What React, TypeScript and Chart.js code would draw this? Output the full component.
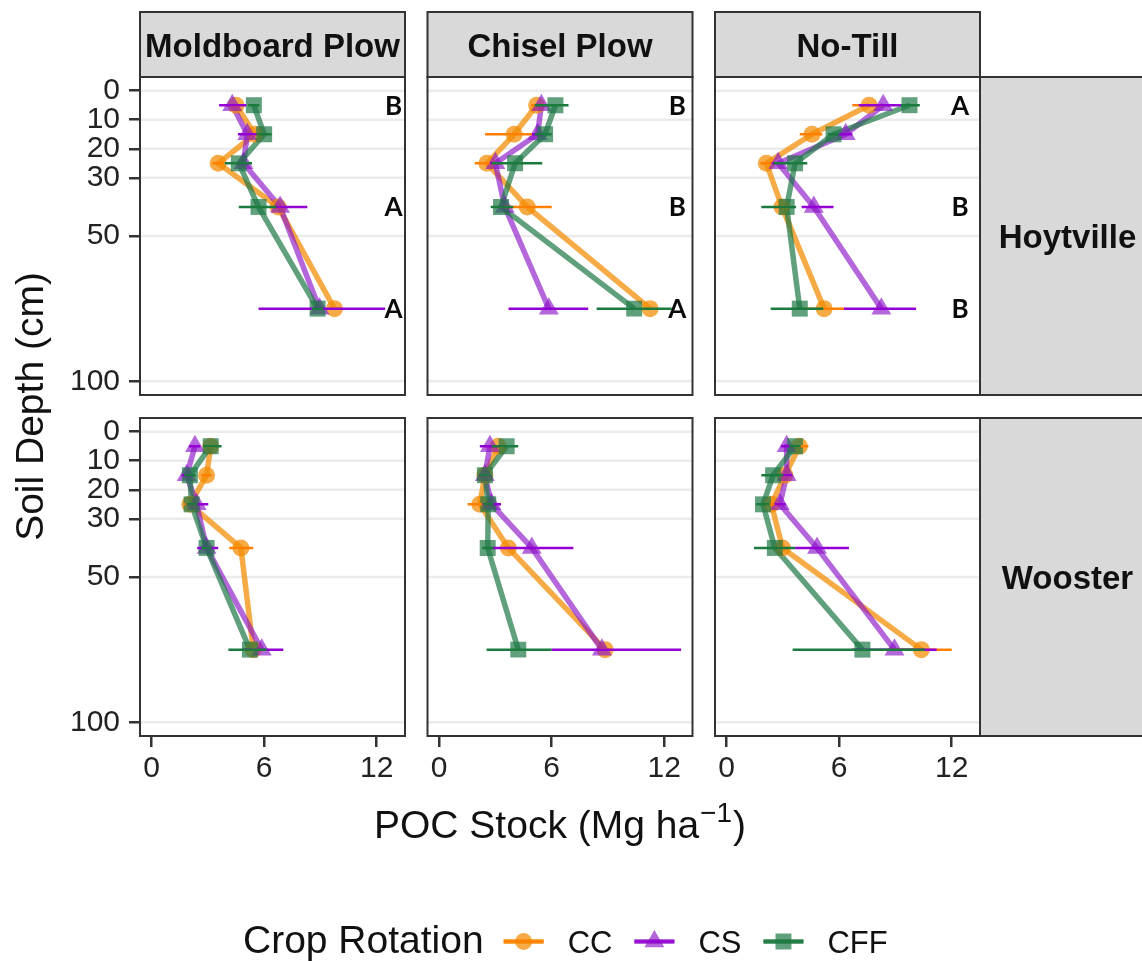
import React, { useEffect, useRef } from 'react';
import { Chart, registerables } from 'chart.js';

Chart.register(...registerables);

// ---------------- data ----------------
const depths = [5, 15, 25, 40, 75];
const tillages = ['Moldboard Plow', 'Chisel Plow', 'No-Till'];
const sites = ['Hoytville', 'Wooster'];
const rotations = ['CC', 'CS', 'CFF'];
const xTicks = [0, 6, 12];
const yTicks = [0, 10, 20, 30, 50, 100];

// Hoytville – Moldboard Plow
const hoyMoldCC = [4.5, 5.5, 3.55, 6.75, 9.75];
const hoyMoldCCLo = [4.2, 5.2, 3.25, 6.45, 9.45];
const hoyMoldCCHi = [4.8, 5.8, 3.85, 7.05, 10.05];
const hoyMoldCS = [4.3, 5.1, 4.9, 6.85, 8.95];
const hoyMoldCSLo = [3.6, 4.6, 4.6, 6.5, 5.7];
const hoyMoldCSHi = [5.05, 5.6, 5.2, 8.3, 12.45];
const hoyMoldCFF = [5.45, 6.0, 4.65, 5.7, 8.85];
const hoyMoldCFFLo = [5.15, 5.6, 3.9, 4.65, 8.55];
const hoyMoldCFFHi = [5.75, 6.4, 5.35, 6.65, 9.15];

// Hoytville – Chisel Plow
const hoyChiselCC = [5.2, 4.0, 2.55, 4.7, 11.25];
const hoyChiselCCLo = [4.9, 2.45, 1.9, 3.45, 10.95];
const hoyChiselCCHi = [5.5, 4.95, 3.3, 6.0, 11.55];
const hoyChiselCS = [5.45, 5.25, 3.0, 3.5, 5.85];
const hoyChiselCSLo = [5.15, 4.95, 2.7, 3.2, 3.7];
const hoyChiselCSHi = [5.75, 5.55, 3.3, 3.8, 7.95];
const hoyChiselCFF = [6.2, 5.65, 4.05, 3.3, 10.4];
const hoyChiselCFFLo = [5.1, 5.1, 2.8, 2.75, 8.4];
const hoyChiselCFFHi = [6.9, 6.0, 5.5, 3.95, 12.4];

// Hoytville – No-Till
const hoyNoTillCC = [7.6, 4.55, 2.12, 2.95, 5.2];
const hoyNoTillCCLo = [6.7, 3.9, 1.8, 2.6, 4.2];
const hoyNoTillCCHi = [8.4, 5.1, 2.45, 3.3, 6.25];
const hoyNoTillCS = [8.35, 6.35, 2.75, 4.65, 8.25];
const hoyNoTillCSLo = [7.05, 5.9, 2.4, 4.0, 6.25];
const hoyNoTillCSHi = [9.3, 6.7, 3.1, 5.7, 10.1];
const hoyNoTillCFF = [9.75, 5.7, 3.65, 3.2, 3.9];
const hoyNoTillCFFLo = [9.3, 5.4, 2.5, 1.85, 2.35];
const hoyNoTillCFFHi = [10.3, 6.0, 4.3, 3.7, 5.15];

// Wooster – Moldboard Plow
const wooMoldCC = [3.15, 2.93, 2.04, 4.76, 5.42];
const wooMoldCCLo = [2.85, 2.65, 1.75, 4.14, 5.12];
const wooMoldCCHi = [3.45, 3.2, 2.35, 5.42, 5.72];
const wooMoldCS = [2.31, 1.87, 2.4, 2.93, 5.87];
const wooMoldCSLo = [2.0, 1.6, 1.87, 2.43, 4.9];
const wooMoldCSHi = [2.6, 2.15, 3.02, 3.55, 7.02];
const wooMoldCFF = [3.15, 2.04, 2.13, 2.93, 5.24];
const wooMoldCFFLo = [2.75, 1.75, 1.85, 2.65, 4.09];
const wooMoldCFFHi = [3.73, 2.35, 2.45, 3.2, 6.13];

// Wooster – Chisel Plow
const wooChiselCC = [3.15, 2.44, 2.17, 3.69, 8.85];
const wooChiselCCLo = [2.85, 2.15, 1.52, 3.4, 8.55];
const wooChiselCCHi = [3.45, 2.75, 2.8, 4.0, 9.15];
const wooChiselCS = [2.71, 2.44, 2.8, 4.94, 8.68];
const wooChiselCSLo = [2.17, 2.15, 2.3, 2.8, 6.0];
const wooChiselCSHi = [3.15, 2.75, 3.3, 7.16, 12.9];
const wooChiselCFF = [3.6, 2.44, 2.62, 2.59, 4.22];
const wooChiselCFFLo = [2.8, 2.15, 2.35, 2.3, 2.53];
const wooChiselCFFHi = [4.22, 2.75, 2.9, 2.9, 6.0];

// Wooster – No-Till
const wooNoTillCC = [3.88, 3.11, 2.39, 2.98, 10.38];
const wooNoTillCCLo = [3.65, 2.8, 2.1, 2.7, 8.8];
const wooNoTillCCHi = [4.36, 3.4, 2.7, 3.3, 12.0];
const wooNoTillCS = [3.2, 3.2, 2.84, 4.82, 8.95];
const wooNoTillCSLo = [2.9, 2.9, 2.55, 3.65, 6.7];
const wooNoTillCSHi = [3.5, 3.5, 3.15, 6.52, 11.2];
const wooNoTillCFF = [3.65, 2.48, 1.94, 2.57, 7.24];
const wooNoTillCFFLo = [3.35, 1.85, 1.58, 1.46, 3.52];
const wooNoTillCFFHi = [3.95, 3.02, 2.3, 3.65, 10.56];

// significance letters (aligned with depths)
const hoyMoldLetters = ['B', '', '', 'A', 'A'];
const hoyChiselLetters = ['B', '', '', 'B', 'A'];
const hoyNoTillLetters = ['A', '', '', 'B', 'B'];
const wooLetters = ['', '', '', '', ''];
const letterX = [12.9, 12.7, 12.45];

// ---------------- table built from arrays ----------------
const panels = [
  [
    { letters: hoyMoldLetters, series: [[hoyMoldCC, hoyMoldCCLo, hoyMoldCCHi], [hoyMoldCS, hoyMoldCSLo, hoyMoldCSHi], [hoyMoldCFF, hoyMoldCFFLo, hoyMoldCFFHi]] },
    { letters: hoyChiselLetters, series: [[hoyChiselCC, hoyChiselCCLo, hoyChiselCCHi], [hoyChiselCS, hoyChiselCSLo, hoyChiselCSHi], [hoyChiselCFF, hoyChiselCFFLo, hoyChiselCFFHi]] },
    { letters: hoyNoTillLetters, series: [[hoyNoTillCC, hoyNoTillCCLo, hoyNoTillCCHi], [hoyNoTillCS, hoyNoTillCSLo, hoyNoTillCSHi], [hoyNoTillCFF, hoyNoTillCFFLo, hoyNoTillCFFHi]] },
  ],
  [
    { letters: wooLetters, series: [[wooMoldCC, wooMoldCCLo, wooMoldCCHi], [wooMoldCS, wooMoldCSLo, wooMoldCSHi], [wooMoldCFF, wooMoldCFFLo, wooMoldCFFHi]] },
    { letters: wooLetters, series: [[wooChiselCC, wooChiselCCLo, wooChiselCCHi], [wooChiselCS, wooChiselCSLo, wooChiselCSHi], [wooChiselCFF, wooChiselCFFLo, wooChiselCFFHi]] },
    { letters: wooLetters, series: [[wooNoTillCC, wooNoTillCCLo, wooNoTillCCHi], [wooNoTillCS, wooNoTillCSLo, wooNoTillCSHi], [wooNoTillCFF, wooNoTillCFFLo, wooNoTillCFFHi]] },
  ],
];

// ---------------- styles ----------------
const FONT = '"Liberation Sans", Arial, Helvetica, sans-serif';
const TEXT = '#111111';
const TICK = '#222222';
const darkColors = ['#FF7F00', '#9400D3', '#1B7A3E'];
const fillColors = ['rgba(243,139,0,0.72)', 'rgba(140,20,200,0.65)', 'rgba(30,120,70,0.7)'];
const pointStyles = ['circle', 'triangle', 'rect'];
const pointRadii = [8.5, 11.5, 11.3];

const X_MIN = -0.62, X_MAX = 13.51;
const Y_MIN = -4.71, Y_MAX = 104.72;

function buildDatasets() {
  const ds: any[] = [];
  panels.forEach((row, r) => {
    row.forEach((panel, c) => {
      panel.series.forEach(([vals, lo, hi], s) => {
        const common = { xAxisID: 'x' + c, yAxisID: 'y' + r };
        ds.push({
          ...common,
          label: `${sites[r]} ${tillages[c]} ${rotations[s]} path`,
          data: depths.map((d, i) => ({ x: vals[i], y: d })),
          borderColor: fillColors[s],
          borderWidth: 5.5,
          borderJoinStyle: 'round',
          borderCapStyle: 'butt',
          pointRadius: 0,
          fill: false,
          order: 30 - s,
        });
        ds.push({
          ...common,
          label: `${sites[r]} ${tillages[c]} ${rotations[s]} points`,
          data: depths.map((d, i) => ({ x: vals[i], y: d })),
          showLine: false,
          pointStyle: pointStyles[s],
          pointRadius: pointRadii[s],
          pointBackgroundColor: fillColors[s],
          pointBorderWidth: 0,
          pointBorderColor: 'rgba(0,0,0,0)',
          order: 20 - s,
        });
        const eb: any[] = [];
        depths.forEach((d, i) => {
          eb.push({ x: lo[i], y: d }, { x: hi[i], y: d }, { x: null, y: null });
        });
        ds.push({
          ...common,
          label: `${sites[r]} ${tillages[c]} ${rotations[s]} error`,
          data: eb,
          borderColor: darkColors[s],
          borderWidth: 2.5,
          borderCapStyle: 'butt',
          pointRadius: 0,
          spanGaps: false,
          fill: false,
          order: 10 - s,
        });
      });
    });
  });
  return ds;
}

function drawMarker(ctx: CanvasRenderingContext2D, style: string, x: number, y: number, r: number) {
  ctx.beginPath();
  if (style === 'circle') {
    ctx.arc(x, y, r, 0, Math.PI * 2);
  } else if (style === 'triangle') {
    let rad = 0;
    ctx.moveTo(x + Math.sin(rad) * r, y - Math.cos(rad) * r);
    rad += (2 * Math.PI) / 3;
    ctx.lineTo(x + Math.sin(rad) * r, y - Math.cos(rad) * r);
    rad += (2 * Math.PI) / 3;
    ctx.lineTo(x + Math.sin(rad) * r, y - Math.cos(rad) * r);
    ctx.closePath();
  } else {
    const h = r * Math.SQRT1_2;
    ctx.rect(x - h, y - h, 2 * h, 2 * h);
  }
  ctx.fill();
}

const facetPlugin = {
  id: 'facetPlugin',
  beforeDatasetsDraw(chart: any) {
    const ctx: CanvasRenderingContext2D = chart.ctx;
    ctx.save();
    ctx.strokeStyle = '#EBEBEB';
    ctx.lineWidth = 2.5;
    for (let r = 0; r < sites.length; r++) {
      for (let c = 0; c < tillages.length; c++) {
        const xs = chart.scales['x' + c];
        const ys = chart.scales['y' + r];
        yTicks.forEach((v) => {
          const py = ys.getPixelForValue(v);
          ctx.beginPath();
          ctx.moveTo(xs.left, py);
          ctx.lineTo(xs.right, py);
          ctx.stroke();
        });
      }
    }
    ctx.restore();
  },
  afterDatasetsDraw(chart: any) {
    const ctx: CanvasRenderingContext2D = chart.ctx;
    const area = chart.chartArea;
    ctx.save();

    // significance letters
    ctx.fillStyle = '#0A0A0A';
    ctx.font = `bold 26px Lato, "Open Sans", sans-serif`;
    ctx.textAlign = 'center';
    ctx.textBaseline = 'middle';
    panels.forEach((row, r) => {
      row.forEach((panel, c) => {
        const xs = chart.scales['x' + c];
        const ys = chart.scales['y' + r];
        panel.letters.forEach((t, i) => {
          if (!t) return;
          ctx.fillText(t, xs.getPixelForValue(letterX[c]), ys.getPixelForValue(depths[i]) + 1);
        });
      });
    });

    // top strips
    const stripTop = 12;
    for (let c = 0; c < tillages.length; c++) {
      const xs = chart.scales['x' + c];
      ctx.fillStyle = '#D9D9D9';
      ctx.fillRect(xs.left, stripTop, xs.right - xs.left, area.top - stripTop);
      ctx.strokeStyle = '#333333';
      ctx.lineWidth = 2;
      ctx.strokeRect(xs.left, stripTop, xs.right - xs.left, area.top - stripTop);
      ctx.fillStyle = TEXT;
      ctx.font = `bold 33px ${FONT}`;
      ctx.textAlign = 'center';
      ctx.textBaseline = 'alphabetic';
      ctx.fillText(tillages[c], (xs.left + xs.right) / 2, (stripTop + area.top) / 2 + 12);
    }
    // right strips
    for (let r = 0; r < sites.length; r++) {
      const ys = chart.scales['y' + r];
      const sx = area.right;
      const sw = 176;
      ctx.fillStyle = '#D9D9D9';
      ctx.fillRect(sx, ys.top, sw, ys.bottom - ys.top);
      ctx.strokeStyle = '#333333';
      ctx.lineWidth = 2;
      ctx.strokeRect(sx, ys.top, sw, ys.bottom - ys.top);
      ctx.fillStyle = TEXT;
      ctx.font = `bold 33px ${FONT}`;
      ctx.textAlign = 'center';
      ctx.textBaseline = 'alphabetic';
      ctx.fillText(sites[r], sx + 87.5, (ys.top + ys.bottom) / 2 + 12);
    }

    // panel borders
    ctx.strokeStyle = '#333333';
    ctx.lineWidth = 2;
    for (let r = 0; r < sites.length; r++) {
      for (let c = 0; c < tillages.length; c++) {
        const xs = chart.scales['x' + c];
        const ys = chart.scales['y' + r];
        ctx.strokeRect(xs.left, ys.top, xs.right - xs.left, ys.bottom - ys.top);
      }
    }

    // y title
    ctx.fillStyle = TEXT;
    ctx.font = `39px ${FONT}`;
    ctx.save();
    ctx.translate(43, (area.top + area.bottom) / 2);
    ctx.rotate(-Math.PI / 2);
    ctx.textAlign = 'center';
    ctx.textBaseline = 'alphabetic';
    ctx.fillText('Soil Depth (cm)', 0, 0);
    ctx.restore();

    // x title with superscript
    const cx = (area.left + area.right) / 2;
    const base = 'POC Stock (Mg ha';
    const sup = '\u22121';
    const close = ')';
    ctx.font = `39px ${FONT}`;
    const w1 = ctx.measureText(base).width;
    const w3 = ctx.measureText(close).width;
    ctx.font = `28px ${FONT}`;
    const w2 = ctx.measureText(sup).width;
    const total = w1 + w2 + w3 + 2;
    let tx = cx - total / 2;
    const tb = 838;
    ctx.textAlign = 'left';
    ctx.textBaseline = 'alphabetic';
    ctx.font = `39px ${FONT}`;
    ctx.fillText(base, tx, tb);
    tx += w1 + 1;
    ctx.font = `28px ${FONT}`;
    ctx.fillText(sup, tx, tb - 16);
    tx += w2 + 1;
    ctx.font = `39px ${FONT}`;
    ctx.fillText(close, tx, tb);

    // legend
    const ly = 941.5;
    const lb = 953;
    let lx = 243;
    ctx.font = `39px ${FONT}`;
    ctx.fillText('Crop Rotation', lx, lb);
    lx += ctx.measureText('Crop Rotation').width + 20;
    rotations.forEach((name, s) => {
      const kw = 40;
      ctx.strokeStyle = fillColors[s];
      ctx.lineWidth = 5;
      ctx.beginPath();
      ctx.moveTo(lx, ly);
      ctx.lineTo(lx + kw, ly);
      ctx.stroke();
      ctx.fillStyle = fillColors[s];
      drawMarker(ctx, pointStyles[s], lx + kw / 2, ly, pointRadii[s]);
      ctx.strokeStyle = darkColors[s];
      ctx.lineWidth = 2.5;
      ctx.beginPath();
      ctx.moveTo(lx, ly);
      ctx.lineTo(lx + kw, ly);
      ctx.stroke();
      lx += kw + 24;
      ctx.fillStyle = TEXT;
      ctx.font = `31px ${FONT}`;
      ctx.fillText(name, lx, lb);
      lx += ctx.measureText(name).width + 22;
    });

    ctx.restore();
  },
};

function xScale(i: number) {
  return {
    type: 'linear',
    position: 'bottom',
    stack: 'cols',
    stackWeight: 265,
    min: X_MIN,
    max: X_MAX,
    afterBuildTicks: (s: any) => {
      s.ticks = xTicks.map((v) => ({ value: v }));
    },
    afterFit: (s: any) => {
      s.height = 225;
    },
    grid: { drawOnChartArea: false, drawTicks: true, tickLength: 11, color: '#333333', lineWidth: 2.5 },
    border: { display: false },
    ticks: {
      font: { family: FONT, size: 30 },
      color: TICK,
      padding: 4,
      maxRotation: 0,
      autoSkip: false,
      callback: (v: any) => String(v),
    },
  };
}

function yScale(i: number) {
  return {
    type: 'linear',
    position: 'left',
    stack: 'rows',
    stackWeight: 318,
    weight: i === 0 ? 3 : 1,
    reverse: true,
    min: Y_MIN,
    max: Y_MAX,
    afterBuildTicks: (s: any) => {
      s.ticks = yTicks.map((v) => ({ value: v }));
    },
    afterFit: (s: any) => {
      s.width = 140;
    },
    grid: { drawOnChartArea: false, drawTicks: true, tickLength: 11, color: '#333333', lineWidth: 2.5 },
    border: { display: false },
    ticks: {
      font: { family: FONT, size: 30 },
      color: TICK,
      padding: 9,
      autoSkip: false,
      callback: (v: any) => String(v),
    },
  };
}

function gapScale(position: string, stack: string, weight: number, w?: number) {
  const o: any = { type: 'linear', position, stack, stackWeight: weight, display: false };
  if (w !== undefined) o.weight = w;
  return o;
}

export default function App() {
  const ref = useRef<HTMLCanvasElement>(null);
  useEffect(() => {
    if (!ref.current) return;
    const chart = new Chart(ref.current, {
      type: 'line',
      data: { datasets: buildDatasets() },
      options: {
        animation: false,
        responsive: false,
        events: [],
        layout: { padding: { top: 77, right: 162, left: 0, bottom: 0 } },
        plugins: { legend: { display: false }, tooltip: { enabled: false } },
        scales: {
          x0: xScale(0),
          xg0: gapScale('bottom', 'cols', 22.5),
          x1: xScale(1),
          xg1: gapScale('bottom', 'cols', 22.5),
          x2: xScale(2),
          y0: yScale(0),
          yg: gapScale('left', 'rows', 23, 2),
          y1: yScale(1),
        } as any,
      } as any,
      plugins: [facetPlugin],
    } as any);
    return () => chart.destroy();
  }, []);
  return (
    <div style={{ position: 'absolute', left: 0, top: 0, width: 1142, height: 961, background: '#ffffff' }}>
      <canvas ref={ref} width={1142} height={961} style={{ display: 'block' }} />
    </div>
  );
}
